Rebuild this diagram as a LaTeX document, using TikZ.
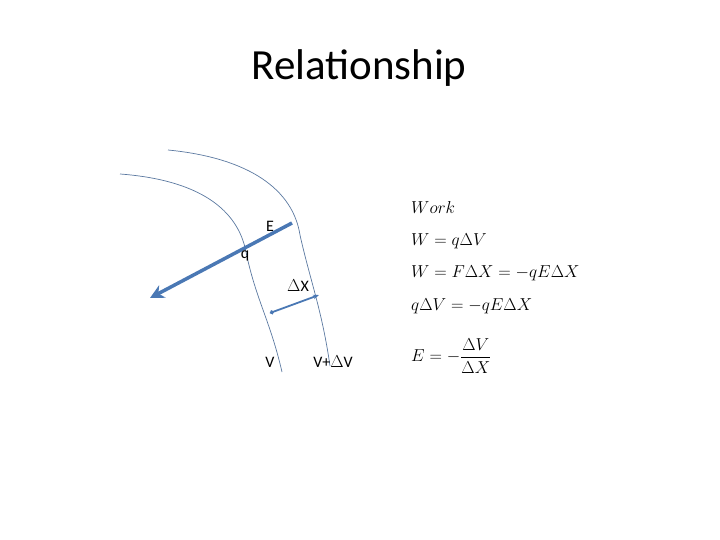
\documentclass[tikz,border=0pt]{standalone}
\usepackage{fontspec}
\setmainfont{Carlito}
\usetikzlibrary{arrows.meta}
\definecolor{ln}{RGB}{90,120,160}
\definecolor{ar}{RGB}{74,120,180}
\begin{document}
\begin{tikzpicture}[x=1pt,y=-1pt,
  eq/.style={anchor=west,font=\fontsize{18}{21}\selectfont,inner sep=0pt},
  lab/.style={font=\fontsize{16}{18}\selectfont,inner sep=0pt}]
\useasboundingbox (0,0) rectangle (720,540);
\node[font=\fontsize{43}{48}\selectfont] (t) at (359,68) {Relationship};
\draw[ln,line width=0.7pt] (120,174) .. controls (200,180) and (238,210) .. (246,252) .. controls (256,300) and (270,320) .. (282,372);
\draw[ln,line width=0.7pt] (168,150) .. controls (250,158) and (293,190) .. (300,235) .. controls (310,280) and (322,310) .. (330,366);
\coordinate (e1) at (292,223);
\coordinate (e2) at (150,298);
\draw[ar,line width=3.5pt,-{Stealth[length=14pt,width=14pt]}] (e1) -- (e2);
\coordinate (d1) at (270,313);
\coordinate (d2) at (319,295);
\draw[ar,line width=1.8pt,{Circle[length=4pt]}-{Stealth[length=6pt]}] (d1) -- (d2);
\node[lab] (E) at (270,226) {E};
\node[lab] (q) at (245,256) {q};
\node[lab] (dx) at (298,286) {$\Delta$X};
\node[lab] (V) at (270,362) {V};
\node[lab] (VV) at (333,362) {V+$\Delta$V};
\node[eq] (w0) at (411,208) {$Work$};
\node[eq] (w1) at (411,241) {$W=q\Delta V$};
\node[eq] (w2) at (411,273) {$W=F\Delta X=-qE\Delta X$};
\node[eq] (w3) at (411,306) {$q\Delta V=-qE\Delta X$};
\node[eq] (w4) at (411,356) {$E=-\displaystyle\frac{\Delta V}{\Delta X}$};
\end{tikzpicture}
\end{document}
